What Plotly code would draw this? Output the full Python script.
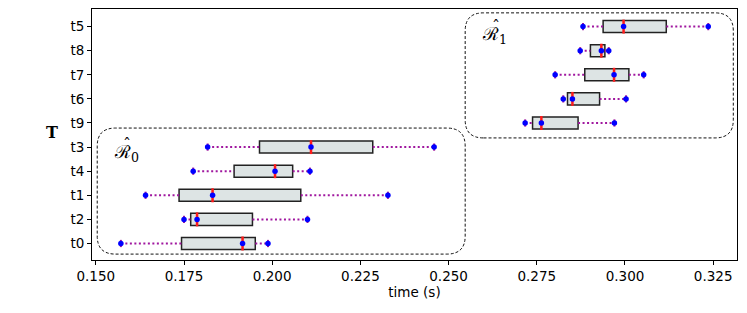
import plotly.graph_objects as go

# Data (bottom to top)
tasks = ["t0", "t2", "t1", "t4", "t3", "t9", "t6", "t7", "t8", "t5"]
whisker_lo = [0.1571, 0.1750, 0.1641, 0.1776, 0.1817, 0.2717, 0.2825, 0.2802, 0.2873, 0.2881]
q1 =         [0.1743, 0.1769, 0.1736, 0.1892, 0.1964, 0.2738, 0.2837, 0.2886, 0.2902, 0.2938]
median =     [0.1916, 0.1787, 0.1831, 0.2008, 0.2110, 0.2763, 0.2851, 0.2969, 0.2933, 0.2996]
q3 =         [0.1952, 0.1944, 0.2081, 0.2058, 0.2285, 0.2867, 0.2928, 0.3011, 0.2943, 0.3117]
whisker_hi = [0.1988, 0.2100, 0.2328, 0.2107, 0.2459, 0.2970, 0.3003, 0.3053, 0.2954, 0.3236]

x_ticks = [0.150, 0.175, 0.200, 0.225, 0.250, 0.275, 0.300, 0.325]

# Region groups: (x0, x1, y0, y1, label, label_x, label_y)
regions = [
    (0.1504, 0.2547, -0.44, 4.79, "ℛ<sub>0</sub>", 0.1545, 3.76),
    (0.2547, 0.3307, 4.38, 9.57, "ℛ<sub>1</sub>", 0.2590, 8.65),
]

PURPLE = "#a0179f"
BOX_H = 0.25

fig = go.Figure()
ys = list(range(len(tasks)))

# Whiskers
wx, wy = [], []
for i in ys:
    wx += [whisker_lo[i], q1[i], None, q3[i], whisker_hi[i], None]
    wy += [i, i, None, i, i, None]
fig.add_trace(go.Scatter(x=wx, y=wy, mode="lines",
                         line=dict(color=PURPLE, width=2, dash="2px,2.5px"),
                         hoverinfo="skip", showlegend=False))

shapes = []
for i in ys:
    shapes.append(dict(type="rect", xref="x", yref="y", x0=q1[i], x1=q3[i],
                       y0=i - BOX_H, y1=i + BOX_H, fillcolor="#dde4e4",
                       line=dict(color="#222222", width=1.5), layer="below"))
    shapes.append(dict(type="line", xref="x", yref="y", x0=median[i], x1=median[i],
                       y0=i - 0.29, y1=i + 0.29, line=dict(color="#ff1a1a", width=2.5),
                       layer="below"))
    for xv in (whisker_lo[i], whisker_hi[i]):
        shapes.append(dict(type="line", xref="x", yref="y", x0=xv, x1=xv,
                           y0=i - 0.15, y1=i + 0.15, line=dict(color=PURPLE, width=2),
                           layer="below"))

# Dots at whisker ends and medians
dx, dy = [], []
for i in ys:
    dx += [whisker_lo[i], median[i], whisker_hi[i]]
    dy += [i, i, i]
fig.add_trace(go.Scatter(x=dx, y=dy, mode="markers",
                         marker=dict(color="#0000ff", size=5.5, line=dict(width=0)),
                         hoverinfo="skip", showlegend=False))

# Rounded dashed regions
rx, ry = 0.0052, 0.75
annotations = []
for (x0, x1, y0, y1, lab, lx, ly) in regions:
    path = (f"M {x0+rx},{y0} L {x1-rx},{y0} Q {x1},{y0} {x1},{y0+ry} "
            f"L {x1},{y1-ry} Q {x1},{y1} {x1-rx},{y1} L {x0+rx},{y1} "
            f"Q {x0},{y1} {x0},{y1-ry} L {x0},{y0+ry} Q {x0},{y0} {x0+rx},{y0} Z")
    shapes.append(dict(type="path", xref="x", yref="y", path=path,
                       line=dict(color="#111111", width=1, dash="3px,2px"),
                       layer="above"))
    annotations.append(dict(x=lx, y=ly, xref="x", yref="y", text=lab,
                            showarrow=False, xanchor="left", yanchor="middle",
                            font=dict(family="DejaVu Serif", size=18, color="black")))
    # hat over the R
    annotations.append(dict(x=lx + 0.0026, y=ly + 0.34, xref="x", yref="y", text="ˆ",
                            showarrow=False, xanchor="left", yanchor="middle",
                            font=dict(family="DejaVu Serif", size=16, color="black")))

annotations.append(dict(x=-0.062, y=0.506, xref="paper", yref="paper",
                        text="<b>T</b>", showarrow=False, xanchor="center",
                        yanchor="middle",
                        font=dict(family="DejaVu Serif", size=16, color="black")))

# The page body has an 8px margin: size the figure so the plot lands in place.
fig.update_layout(
    width=739, height=305,
    margin=dict(l=84, r=10, t=1, b=53),
    paper_bgcolor="white", plot_bgcolor="white",
    shapes=shapes, annotations=annotations,
    font=dict(family="DejaVu Sans", size=13.5, color="black"),
    xaxis=dict(range=[0.14892, 0.33175], tickvals=x_ticks,
               ticktext=[f"{v:.3f}" for v in x_ticks], automargin=False,
               showgrid=False, zeroline=False, showline=True, mirror=True,
               linecolor="black", linewidth=1, ticks="outside", ticklen=4,
               tickcolor="black",
               title=dict(text="time (s)", standoff=4,
                          font=dict(family="DejaVu Sans", size=13.5))),
    yaxis=dict(range=[-0.685, 9.73], tickvals=ys, ticktext=tasks, automargin=False,
               showgrid=False, zeroline=False, showline=True, mirror=True,
               linecolor="black", linewidth=1, ticks="outside", ticklen=4,
               tickcolor="black"),
)

fig.write_html("out.html")
